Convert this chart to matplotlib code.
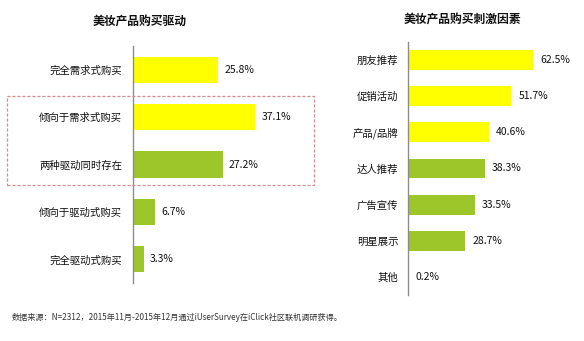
import matplotlib
matplotlib.use("Agg")
import matplotlib.pyplot as plt
from matplotlib.patches import Rectangle

plt.rcParams['font.family'] = ['Noto Sans CJK SC', 'DejaVu Sans']

# Data
left_title = "美妆产品购买驱动"
left_cats = ["完全需求式购买", "倾向于需求式购买", "两种驱动同时存在", "倾向于驱动式购买", "完全驱动式购买"]
left_vals = [25.8, 37.1, 27.2, 6.7, 3.3]
left_kinds = ["y", "y", "g", "g", "g"]

right_title = "美妆产品购买刺激因素"
right_cats = ["朋友推荐", "促销活动", "产品/品牌", "达人推荐", "广告宣传", "明星展示", "其他"]
right_vals = [62.5, 51.7, 40.6, 38.3, 33.5, 28.7, 0.2]
right_kinds = ["y", "y", "y", "g", "g", "g", "g"]

footnote = "数据来源：N=2312，2015年11月-2015年12月通过iUserSurvey在iClick社区联机调研获得。"

YELLOW = "#FFFF00"
GREEN = "#9DC62A"
colors = {"y": YELLOW, "g": GREEN}
TXT = "#111111"

W, H = 584, 341
fig = plt.figure(figsize=(W / 100, H / 100), dpi=100)
fig.patch.set_facecolor("white")


def px_axes(left, top, right, bottom):
    return fig.add_axes([left / W, 1 - bottom / H, (right - left) / W, (bottom - top) / H])


def draw(ax, cats, vals, kinds, xmax, pad, offset):
    n = len(cats)
    ys = list(range(n))
    ax.barh(ys, vals, height=0.55, color=[colors[k] for k in kinds], edgecolor="none")
    ax.set_ylim(n - 0.5, -0.5)
    ax.set_xlim(0, xmax)
    ax.set_yticks(ys)
    ax.set_yticklabels(cats, fontsize=7.5, color=TXT)
    ax.tick_params(axis="y", length=0, pad=pad)
    ax.set_xticks([])
    for s in ["top", "right", "bottom"]:
        ax.spines[s].set_visible(False)
    ax.spines["left"].set_color("#8c8c8c")
    ax.spines["left"].set_linewidth(1.0)
    ax.patch.set_alpha(0)
    for y, v in zip(ys, vals):
        ax.annotate(f"{v}%", xy=(v, y), xytext=(offset, 0), textcoords="offset points",
                    va="center", ha="left", fontsize=7.5, color=TXT,
                    annotation_clip=False)


axL = px_axes(133, 46, 133 + 132, 283)
draw(axL, left_cats, left_vals, left_kinds, 40, 8, 4.5)

axR = px_axes(408, 42, 408 + 140, 295)
draw(axR, right_cats, right_vals, right_kinds, 70, 7, 5)

fig.text(140 / W, 1 - 22 / H, left_title, ha="center", va="center", fontsize=8.5,
         fontweight="bold", color=TXT)
fig.text(462 / W, 1 - 20 / H, right_title, ha="center", va="center", fontsize=8.5,
         fontweight="bold", color=TXT)

rect = Rectangle((7 / W, 1 - 185 / H), (314 - 7) / W, (185 - 96) / H,
                 transform=fig.transFigure, fill=False, edgecolor="#D58A90",
                 linestyle=(0, (2.5, 1.5)), linewidth=0.9)
fig.patches.append(rect)

fig.text(12 / W, 1 - 317 / H, footnote, ha="left", va="center", fontsize=5.85, color="#333333")

fig.savefig("out.png", dpi=100, facecolor="white")
